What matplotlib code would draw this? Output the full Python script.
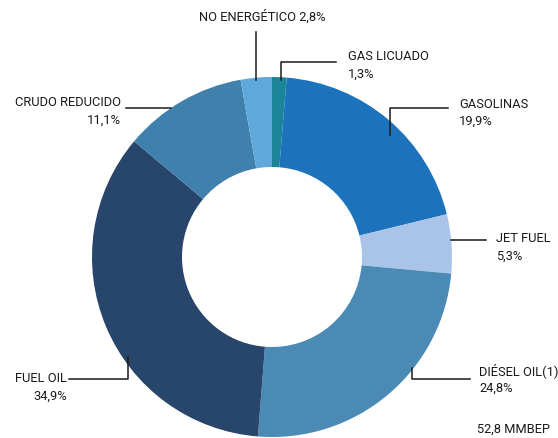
import matplotlib.pyplot as plt
from matplotlib.lines import Line2D

W, H = 558, 438

# ── Data ──────────────────────────────────────────────────────────────────────
products = ["GAS LICUADO", "GASOLINAS", "JET FUEL", "DIÉSEL OIL(1)",
            "FUEL OIL", "CRUDO REDUCIDO", "NO ENERGÉTICO"]
shares = [1.3, 19.9, 5.3, 24.8, 34.9, 11.1, 2.8]
colors = ["#1a8499", "#1c72bb", "#a9c4e8", "#4a8ab4",
          "#28456b", "#3f80ad", "#5ea8db"]
total_label = "52,8 MMBEP"

# label layout in pixels (from top-left): text x, text y, alignment, two lines?
label_pos = {
    "GAS LICUADO":    (348, 57, "left", True),
    "GASOLINAS":      (459, 104, "left", True),
    "JET FUEL":       (496, 239, "left", True),
    "DIÉSEL OIL(1)":  (479, 371, "left", True),
    "FUEL OIL":       (67, 379, "right", True),
    "CRUDO REDUCIDO": (121, 103, "right", True),
    "NO ENERGÉTICO":  (262, 17, "center", False),
}
leaders = {
    "GAS LICUADO":    [(281, 80), (281, 62), (336, 62)],
    "GASOLINAS":      [(390, 135), (390, 108), (448, 108)],
    "JET FUEL":       [(451, 240), (486, 240)],
    "DIÉSEL OIL(1)":  [(412, 368), (412, 379), (470, 379)],
    "FUEL OIL":       [(128, 357), (128, 379), (69, 379)],
    "CRUDO REDUCIDO": [(171, 108), (126, 108)],
    "NO ENERGÉTICO":  [(256, 80), (256, 32)],
}

FONT = ["Roboto", "DejaVu Sans"]
FS = 9.3


def fx(x):
    return x / W


def fy(y):
    return 1 - y / H


def pct(v):
    return f"{v:.1f}%".replace(".", ",")


fig = plt.figure(figsize=(W / 100, H / 100), dpi=100, facecolor="white")

# pie axes centred at (272, 257) px with radius 180 px
cx, cy, r = 272, 257, 180
ax = fig.add_axes([fx(cx - r), fy(cy + r), 2 * r / W, 2 * r / H])
ax.pie(shares, colors=colors, startangle=90, counterclock=False, radius=1,
       wedgeprops={"width": 0.5, "linewidth": 0})
ax.set_xlim(-1, 1)
ax.set_ylim(-1, 1)
ax.set_aspect("auto")
ax.axis("off")

for name, v in zip(products, shares):
    pts = leaders[name]
    fig.add_artist(Line2D([fx(p[0]) for p in pts], [fy(p[1]) for p in pts],
                          transform=fig.transFigure, color="#1a1a1a", lw=1.1))
    x, y, ha, two = label_pos[name]
    if two:
        fig.text(fx(x), fy(y), name, ha=ha, va="center", fontsize=FS,
                 family=FONT, color="#1a1a1a")
        fig.text(fx(x), fy(y + 17), pct(v), ha=ha, va="center", fontsize=FS,
                 family=FONT, color="#1a1a1a")
    else:
        fig.text(fx(x), fy(y), f"{name} {pct(v)}", ha=ha, va="center",
                 fontsize=FS, family=FONT, color="#1a1a1a")

fig.text(fx(477), fy(429), total_label, ha="left", va="center", fontsize=FS,
         family=FONT, color="#1a1a1a")

fig.savefig("out.png", dpi=100, facecolor="white")
